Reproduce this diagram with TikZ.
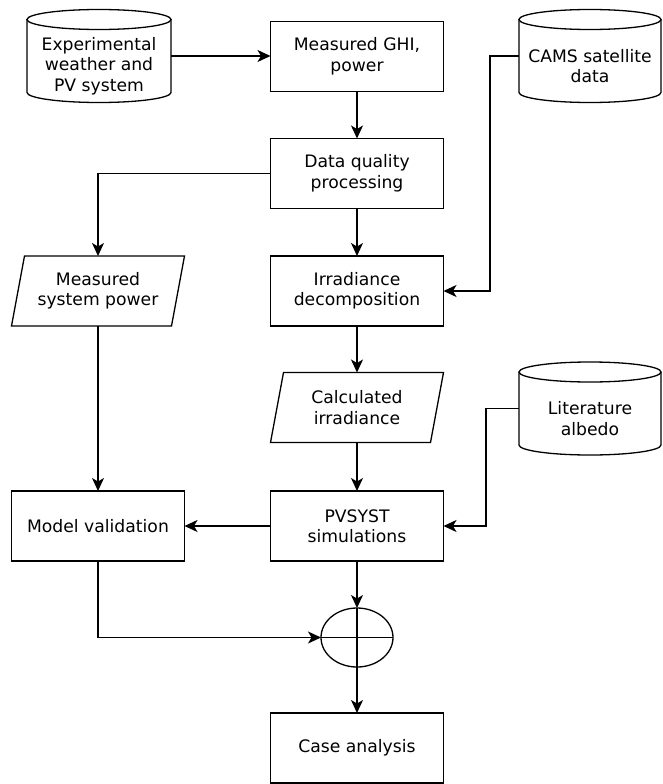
\documentclass[tikz,border=0pt]{standalone}
\usepackage{fontspec}
\setmainfont{DejaVu Sans}
\usetikzlibrary{arrows.meta,calc,shapes.geometric}
\newcommand{\drawcyl}[2]{%
  \draw[ln] ($(#1.north west)+(0,-10)$) -- ($(#1.south west)+(0,10)$)
     arc[start angle=180,end angle=360,x radius=#2,y radius=10]
     -- ($(#1.north east)+(0,-10)$);
  \draw[ln] ($(#1.north)+(0,-10)$) ellipse[x radius=#2, y radius=10];
}
\newcommand{\drawpar}[1]{%
  \draw[ln] ($(#1.north west)+(13,0)$) -- (#1.north east)
     -- ($(#1.south east)+(-13,0)$) -- (#1.south west) -- cycle;
}
\begin{document}
\begin{tikzpicture}[x=1pt,y=1pt,
  every node/.style={font=\fontsize{17.2}{20.5}\selectfont, align=center, inner sep=0pt, outer sep=0pt},
  ln/.style={line width=1.3pt},
  box/.style={draw, line width=1.4pt, minimum width=173pt, minimum height=70pt},
  cylnode/.style={minimum height=93pt},
  parnode/.style={minimum width=173pt, minimum height=70pt},
  arr/.style={ln, -{Stealth[length=13pt,width=12pt,inset=3.5pt]}},
]
\useasboundingbox (0,0) rectangle (662,-784);

% cylinders
\node[cylnode, minimum width=144pt] (exp) at (99,-56) {};
\node (exptext) at ([yshift=-10pt]exp.center) {Experimental\\weather and\\PV system};
\drawcyl{exp}{72}

\node[cylnode, minimum width=142pt] (cams) at (590,-56) {};
\node (camstext) at ([yshift=-10pt]cams.center) {CAMS satellite\\data};
\drawcyl{cams}{71}

\node[cylnode, minimum width=142pt] (lit) at (590,-408.5) {};
\node (littext) at ([yshift=-10pt]lit.center) {Literature\\albedo};
\drawcyl{lit}{71}

% boxes
\node[box] (ghi) at (357,-56.5) {Measured GHI,\\power};
\node[box] (dq) at (357,-173.5) {Data quality\\processing};
\node[box] (irr) at (357,-291) {Irradiance\\decomposition};
\node[box] (pv) at (357,-526) {PVSYST\\simulations};
\node[box] (mv) at (98,-526) {Model validation};
\node[box] (case) at (357,-748) {Case analysis};

% parallelograms
\node[parnode] (msp) at (98,-291) {Measured\\system power};
\drawpar{msp}
\node[parnode] (calc) at (357,-407.5) {Calculated\\irradiance};
\drawpar{calc}

% summing junction
\node[draw, ln, ellipse, minimum width=72pt, minimum height=59pt] (sum) at (357,-637.5) {};
\draw[ln] (sum.west) -- (sum.east);
\draw[ln] (sum.north) -- (sum.south);

% free corners
\coordinate (c1) at (490,-56);
\coordinate (c2) at (486,-408.5);

% connectors
\draw[arr] (exp.east) -- (exp.east -| ghi.west);
\draw[arr] (ghi) -- (dq);
\draw[arr] (dq.west) -| (msp.north);
\draw[arr] (dq) -- (irr);
\draw[arr] (cams.west) -- (c1) |- (irr.east);
\draw[arr] (irr) -- (calc);
\draw[arr] (calc) -- (pv);
\draw[arr] (msp.south) -- (mv.north);
\draw[arr] (lit.west) -- (c2) |- (pv.east);
\draw[arr] (pv.west) -- (mv.east);
\draw[arr] (pv) -- (sum);
\draw[arr] (mv.south) |- (sum.west);
\draw[arr] (sum) -- (case);
\end{tikzpicture}
\end{document}
